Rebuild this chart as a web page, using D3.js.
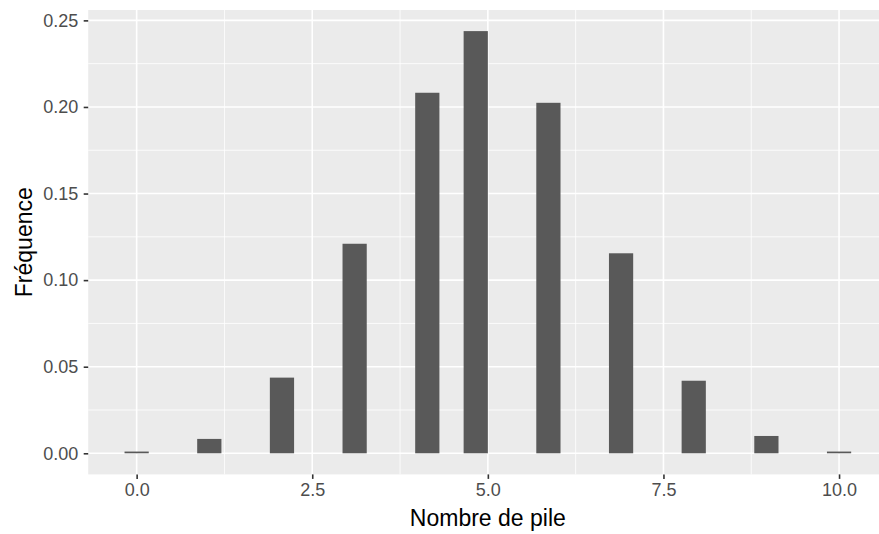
<!DOCTYPE html>
<html>
<head>
<meta charset="utf-8">
<script src="https://cdn.jsdelivr.net/npm/d3@7"></script>
<style>
  html, body { margin: 0; padding: 0; background: #ffffff; }
  svg { display: block; }
  text { font-family: "Liberation Sans", Arial, Helvetica, sans-serif; }
</style>
</head>
<body>
<svg id="chart" width="879" height="534"></svg>
<script>
// Number of heads (pile) observed and the relative frequency of each outcome
const outcomes = [0, 1, 2, 3, 4, 5, 6, 7, 8, 9, 10];
const frequencies = [0.001, 0.0083, 0.0437, 0.1210, 0.2082, 0.2438, 0.2024, 0.1155, 0.0419, 0.0100, 0.001];
const xTicks = [0, 2.5, 5, 7.5, 10];
const yTicks = [0, 0.05, 0.10, 0.15, 0.20, 0.25];
const xTitle = "Nombre de pile";
const yTitle = "Fréquence";

// Histogram binning: 30 bins spanning the data, centred on the minimum, right-closed
const nBins = 30;
const xMin = d3.min(outcomes), xMax = d3.max(outcomes);
const binWidth = (xMax - xMin) / (nBins - 1);
const bars = outcomes.map((v, i) => {
  const idx = Math.ceil((v - xMin + binWidth / 2) / binWidth - 1e-9) - 1;
  const center = xMin + idx * binWidth;
  return { x0: center - binWidth / 2, x1: center + binWidth / 2, y: frequencies[i] };
});

const svg = d3.select("#chart");
const panel = { left: 88.2, top: 10, bottom: 474.4, right: 887.5 };

// 5% expansion on each side of the data range
const xLo = xMin - binWidth / 2, xHi = xMax + binWidth / 2;
const xPad = (xHi - xLo) * 0.05;
const x = d3.scaleLinear().domain([xLo - xPad, xHi + xPad]).range([panel.left, panel.right]);
const yMaxData = d3.max(frequencies);
const yPad = yMaxData * 0.05;
const y = d3.scaleLinear().domain([-yPad, yMaxData + yPad]).range([panel.bottom, panel.top]);

// Panel background
svg.append("rect")
  .attr("x", panel.left).attr("y", panel.top)
  .attr("width", panel.right - panel.left).attr("height", panel.bottom - panel.top)
  .attr("fill", "#EBEBEB");

const grid = svg.append("g");
// Minor grid lines sit halfway between major breaks
const xMinor = d3.range(xTicks.length - 1).map(i => (xTicks[i] + xTicks[i + 1]) / 2);
const yMinor = d3.range(yTicks.length - 1).map(i => (yTicks[i] + yTicks[i + 1]) / 2);
grid.selectAll(".ymin").data(yMinor).join("line")
  .attr("x1", panel.left).attr("x2", panel.right)
  .attr("y1", d => y(d)).attr("y2", d => y(d))
  .attr("stroke", "#ffffff").attr("stroke-width", 0.8);
grid.selectAll(".xmin").data(xMinor).join("line")
  .attr("y1", panel.top).attr("y2", panel.bottom)
  .attr("x1", d => x(d)).attr("x2", d => x(d))
  .attr("stroke", "#ffffff").attr("stroke-width", 0.8);
grid.selectAll(".ymaj").data(yTicks).join("line")
  .attr("x1", panel.left).attr("x2", panel.right)
  .attr("y1", d => y(d)).attr("y2", d => y(d))
  .attr("stroke", "#ffffff").attr("stroke-width", 1.6);
grid.selectAll(".xmaj").data(xTicks).join("line")
  .attr("y1", panel.top).attr("y2", panel.bottom)
  .attr("x1", d => x(d)).attr("x2", d => x(d))
  .attr("stroke", "#ffffff").attr("stroke-width", 1.6);

// Bars
svg.append("g").selectAll("rect").data(bars).join("rect")
  .attr("x", d => x(d.x0))
  .attr("width", d => x(d.x1) - x(d.x0))
  .attr("y", d => y(d.y))
  .attr("height", d => y(0) - y(d.y))
  .attr("fill", "#595959");

// Axes
const xAxis = d3.axisBottom(x).tickValues(xTicks).tickFormat(d3.format(".1f"))
  .tickSize(4.5).tickPadding(4);
const yAxis = d3.axisLeft(y).tickValues(yTicks).tickFormat(d3.format(".2f"))
  .tickSize(4.5).tickPadding(5.5);

const gx = svg.append("g").attr("transform", `translate(0,${panel.bottom})`).call(xAxis);
const gy = svg.append("g").attr("transform", `translate(${panel.left},0)`).call(yAxis);
[gx, gy].forEach(g => {
  g.select(".domain").remove();
  g.selectAll(".tick line").attr("stroke", "#333333").attr("stroke-width", 1.6);
  g.selectAll(".tick text").attr("fill", "#4D4D4D").style("font-size", "18px");
});

// Axis titles
svg.append("text")
  .attr("x", (panel.left + panel.right) / 2).attr("y", 526)
  .attr("text-anchor", "middle")
  .attr("fill", "#000000")
  .style("font-size", "23px")
  .text(xTitle);
svg.append("text")
  .attr("transform", `translate(32,${(panel.top + panel.bottom) / 2}) rotate(-90)`)
  .attr("text-anchor", "middle")
  .attr("fill", "#000000")
  .style("font-size", "23px")
  .text(yTitle);
</script>
</body>
</html>
